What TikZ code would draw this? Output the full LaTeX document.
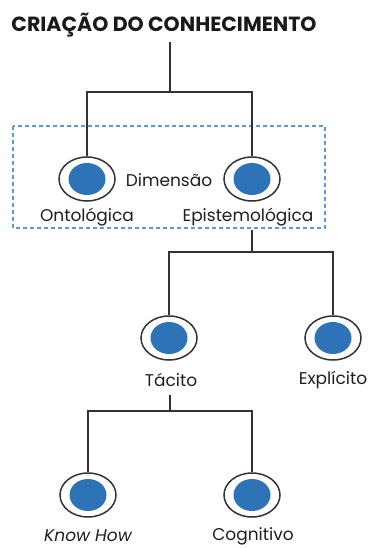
\documentclass[tikz,border=0pt]{standalone}
\usepackage{fontspec}
\setmainfont{Poppins}
\usetikzlibrary{shapes.geometric, positioning, calc}
\definecolor{dotblue}{RGB}{46,114,184}
\definecolor{boxblue}{RGB}{91,155,213}
\definecolor{linegray}{RGB}{51,51,51}

\begin{document}
\begin{tikzpicture}[
		x=1pt, y=-1pt,
		ring/.style={ellipse, draw=linegray, line width=1.5pt, fill=white,
			minimum width=56pt, minimum height=44pt, inner sep=0pt,
			path picture={\fill[dotblue] (path picture bounding box.center) ellipse (18.5pt and 16pt);}},
		lbl/.style={font=\fontsize{17}{18}\selectfont, text=black!88, inner sep=1pt},
		link/.style={draw=linegray, line width=1.5pt}
		]

		\useasboundingbox (0,0) rectangle (368,549);

		% --- titulo ---
		\node[font=\fontsize{20.5}{23}\selectfont\bfseries, text=black!90, inner sep=0pt] (title) at (164,25) {CRIAÇÃO DO CONHECIMENTO};

		% --- dimensao ---
		\draw[boxblue, line width=1.2pt, dash pattern=on 4pt off 3pt] (13,126) rectangle (325,228);
		\node[ring] (onto) at (87,179) {};
		\node[ring] (epis) at (252,179) {};
		\node[lbl] (dim) at (169,180) {Dimensão};
		\node[lbl] (ontolbl) at (87,217) {Ontológica};
		\node[lbl] (epislbl) at (248,217) {Epistemológica};

		% --- tacito / explicito ---
		\node[ring] (tac) at (169,338) {};
		\node[ring] (exp) at (333,338) {};
		\node[lbl] (taclbl) at (171,380) {Tácito};
		\node[lbl] (explbl) at (333,380) {Explícito};

		% --- know how / cognitivo ---
		\node[ring] (know) at (88,495) {};
		\node[ring] (cog) at (252,495) {};
		\node[lbl] (knowlbl) at (88,536) {\itshape Know How};
		\node[lbl] (coglbl) at (253,536) {Cognitivo};

		% --- ligacoes ---
		\coordinate (j1) at (170,92);
		\coordinate (j2) at (252,252);
		\coordinate (j3) at (170,411);

		\draw[link] (170,42) -- (j1);
		\draw[link] (onto.north) |- (j1) -| (epis.north);
		\draw[link] (252,230) -- (j2);
		\draw[link] (tac.north) |- (j2) -| (exp.north);
		\draw[link] (170,395) -- (j3);
		\draw[link] (know.north) |- (j3) -| (cog.north);

	\end{tikzpicture}
\end{document}
